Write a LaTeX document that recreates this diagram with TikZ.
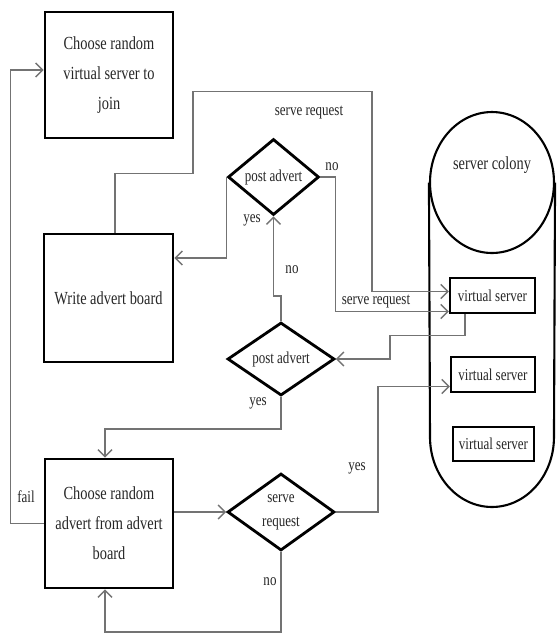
\documentclass[tikz,border=0pt]{standalone}
\usepackage{fontspec}
\setmainfont[FakeStretch=0.78]{Liberation Serif}
\usetikzlibrary{shapes.geometric,arrows.meta,calc}

\begin{document}
\begin{tikzpicture}[x=0.02cm, y=-0.02cm,
  box/.style={draw, line width=1.6pt, align=center, inner sep=2pt, text=black!85, font=\fontsize{10.5}{17}\selectfont},
  decision/.style={draw, diamond, line width=1.6pt, align=center, inner sep=0pt, text=black!85, font=\fontsize{9.5}{13.5}\selectfont},
  vserver/.style={draw, line width=1.4pt, inner sep=1pt, minimum height=0.7cm, text=black!85, font=\fontsize{9.5}{11}\selectfont},
  colonyline/.style={draw, line width=1.2pt},
  conn/.style={draw=black!55, line width=0.8pt, -{Straight Barb[length=4pt,width=8pt]}},
  lbl/.style={text=black!85, font=\fontsize{9.5}{11}\selectfont}
]
\useasboundingbox (0,0) rectangle (556,633);

% process boxes
\node[box, minimum width=2.56cm, minimum height=2.52cm] (join) at (109,75) {Choose random\\virtual server to\\join};
\node[box, minimum width=2.58cm, minimum height=2.56cm] (write) at (108.5,298) {Write advert board};
\node[box, minimum width=2.56cm, minimum height=2.58cm] (choose) at (109,523.5) {Choose random\\advert from advert\\board};

% decisions
\node[decision, minimum width=1.82cm, minimum height=1.52cm, aspect=1.2] (pa1) at (273.5,177) {post advert};
\node[decision, minimum width=2.14cm, minimum height=1.46cm, aspect=1.47] (pa2) at (281,359) {post advert};
\node[decision, minimum width=2.14cm, minimum height=1.54cm, aspect=1.39] (sr) at (281,512) {serve\\request};

% server colony
\node[colonyline, ellipse, minimum width=2.48cm, minimum height=2.82cm] (colony) at (492,182.5) {};
\node[lbl, font=\fontsize{10.5}{12}\selectfont] (colonytxt) at (492,165) {server colony};
\draw[colonyline] (colony.west) -- (430,437) arc[start angle=180, end angle=360, x radius=1.24cm, y radius=1.4cm] -- (colony.east);

\node[vserver, minimum width=1.7cm] (vs1) at (492.5,295.5) {virtual server};
\node[vserver, minimum width=1.68cm] (vs2) at (493,374.5) {virtual server};
\node[vserver, minimum width=1.62cm, minimum height=0.68cm] (vs3) at (493.5,444) {virtual server};

% fail: back to the start
\draw[conn] (choose.west) -- ++(-33,0) |- ($(join.west)+(0,-5)$);

% write advert board -> virtual server
\draw[conn] ($(write.north)+(6.5,0)$) -- ++(0,-59) -- ++(78,0) |- ++(179,-82) |- ($(vs1.west)+(0,-4)$);

% upper post advert: yes / no
\draw[conn] (pa1.west) |- ($(write.east)+(0,-40)$);
\draw[conn] (pa1.east) -- ++(15,0) |- ($(vs1.west)+(0,16)$);

% lower post advert: no / yes
\draw[conn] (pa2.north) -- ++(0,-25) -| (pa1.south);
\draw[conn] (pa2.south) -- ++(0,32) -| ($(choose.north)+(-4,0)$);

% virtual server -> lower post advert
\draw[conn] ($(vs1.south)+(-27.5,0)$) -- ++(0,21) -- ++(-75,0) |- (pa2.east);

% serve request: yes / no
\draw[conn] (choose.east |- sr.west) -- (sr.west);
\draw[conn] (sr.east) -- ++(42,0) |- ($(vs2.west)+(0,12)$);
\draw[conn] (sr.south) -- ++(0,80) -| ($(choose.south)+(-4,0)$);

% labels
\node[lbl] (lsr1) at (309,113) {serve request};
\node[lbl] (lno1) at (332,167) {no};
\node[lbl] (lyes1) at (252,220) {yes};
\node[lbl] (lno2) at (292,270) {no};
\node[lbl] (lsr2) at (376,302) {serve request};
\node[lbl] (lyes2) at (258,403) {yes};
\node[lbl] (lfail) at (26,497) {fail};
\node[lbl] (lyes3) at (357,468) {yes};
\node[lbl] (lno3) at (270,582) {no};

\end{tikzpicture}
\end{document}
